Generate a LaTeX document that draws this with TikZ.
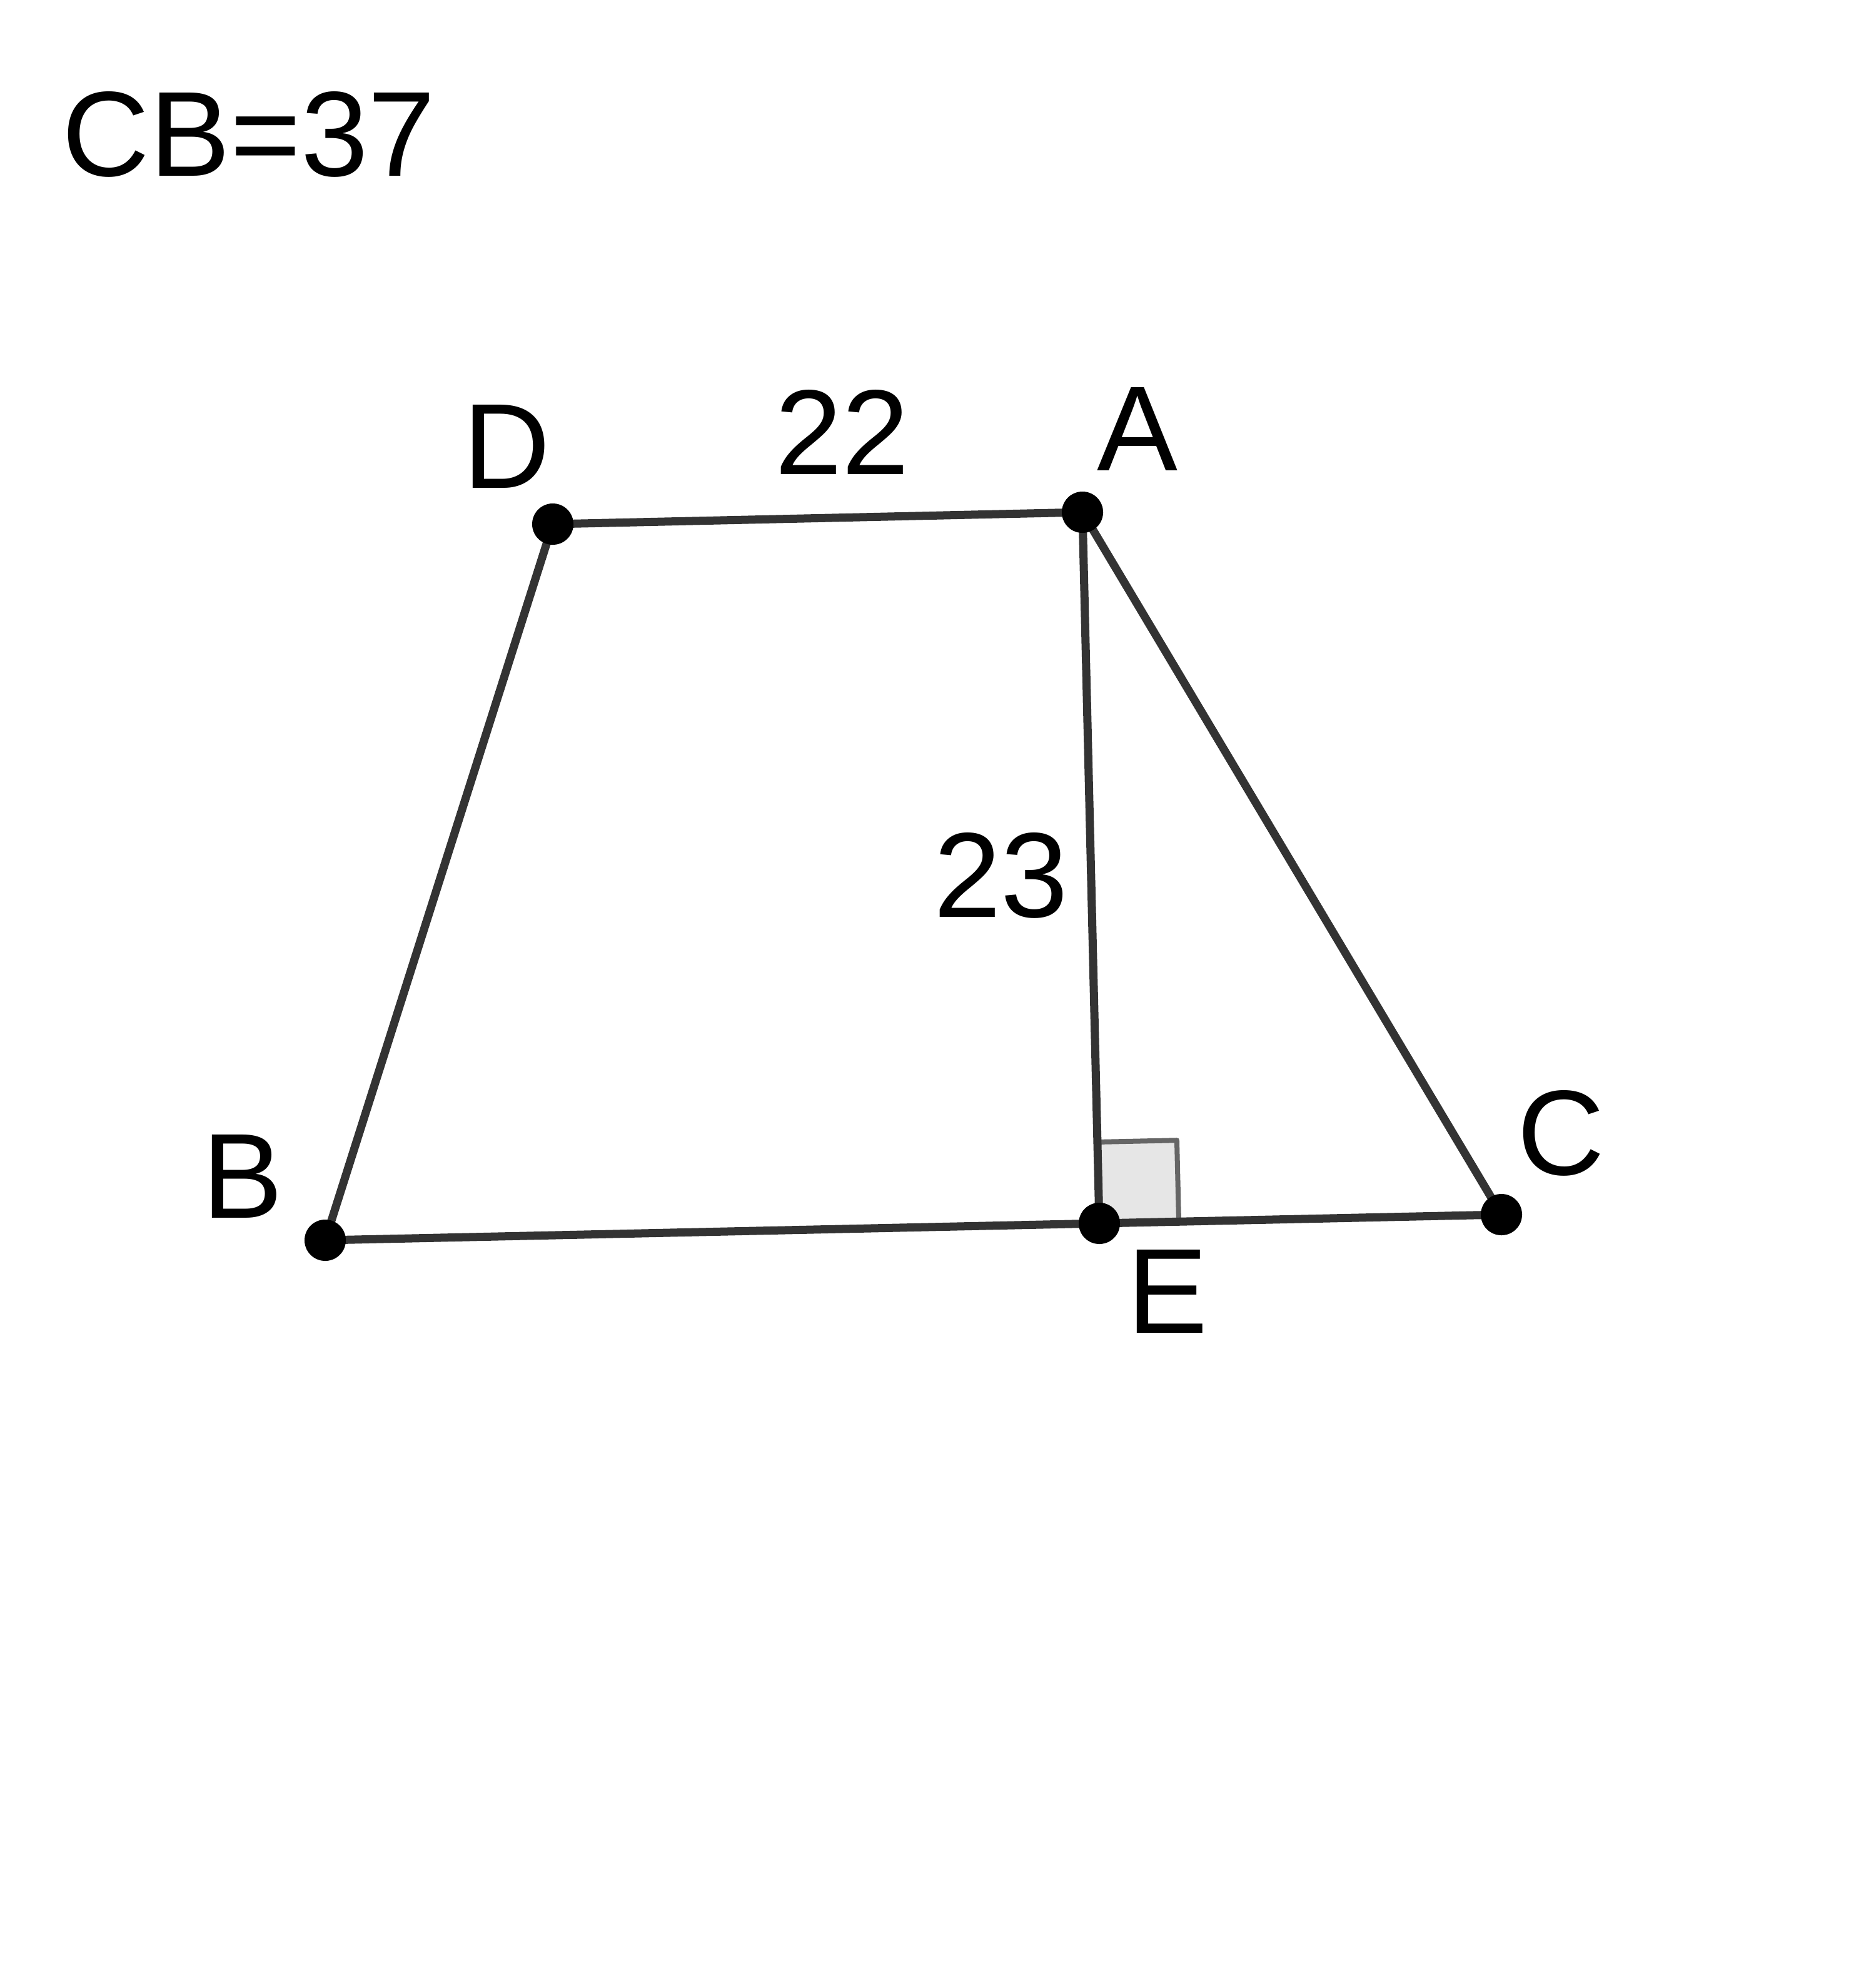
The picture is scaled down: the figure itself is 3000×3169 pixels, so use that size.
\documentclass[tikz,border=0pt]{standalone}
\usepackage{fontspec}
\setmainfont{Liberation Sans}
\usetikzlibrary{calc}
\definecolor{segcol}{HTML}{333333}
\definecolor{sqfill}{HTML}{E6E6E6}
\definecolor{sqline}{HTML}{666666}
\begin{document}
\begin{tikzpicture}[x=0.01cm,y=-0.01cm,
  seg/.style={draw=segcol,line width=0.13cm},
  ptdot/.style={circle,fill=black,inner sep=0pt,minimum size=0.66cm},
  lbl/.style={anchor=base,inner sep=0pt,font=\fontsize{55}{66}\selectfont}]
\useasboundingbox (0,0) rectangle (3000,3169);
\coordinate (D) at (884,838);
\coordinate (A) at (1731,819);
\coordinate (B) at (520,1983);
\coordinate (E) at (1758,1956);
\coordinate (C) at (2401,1942);
% right-angle mark
\coordinate (Q1) at ($(E)!1.3cm!(A)$);
\coordinate (Q3) at ($(E)!1.27cm!(C)$);
\coordinate (Q2) at ($(Q1)+(Q3)-(E)$);
\fill[sqfill] (E) -- (Q1) -- (Q2) -- (Q3) -- cycle;
\draw[sqline,line width=0.08cm,line join=round] (Q1) -- (Q2) -- (Q3);
% segments
\draw[seg] (D) -- (A);
\draw[seg] (A) -- (C);
\draw[seg] (A) -- (E);
\draw[seg] (B) -- (C);
\draw[seg] (B) -- (D);
% points
\node[ptdot] (nD) at (D) {};
\node[ptdot] (nA) at (A) {};
\node[ptdot] (nB) at (B) {};
\node[ptdot] (nE) at (E) {};
\node[ptdot] (nC) at (C) {};
% labels
\node[lbl,anchor=base west] (title) at (99,281) {CB=37};
\node[lbl] (lD) at (810,780) {D};
\node[lbl] (l22) at (1347,758) {22};
\node[lbl] (lA) at (1819,752) {A};
\node[lbl] (l23) at (1601,1466) {23};
\node[lbl] (lB) at (388,1947) {B};
\node[lbl] (lC) at (2496,1878) {C};
\node[lbl] (lE) at (1867,2131) {E};
\end{tikzpicture}
\end{document}
